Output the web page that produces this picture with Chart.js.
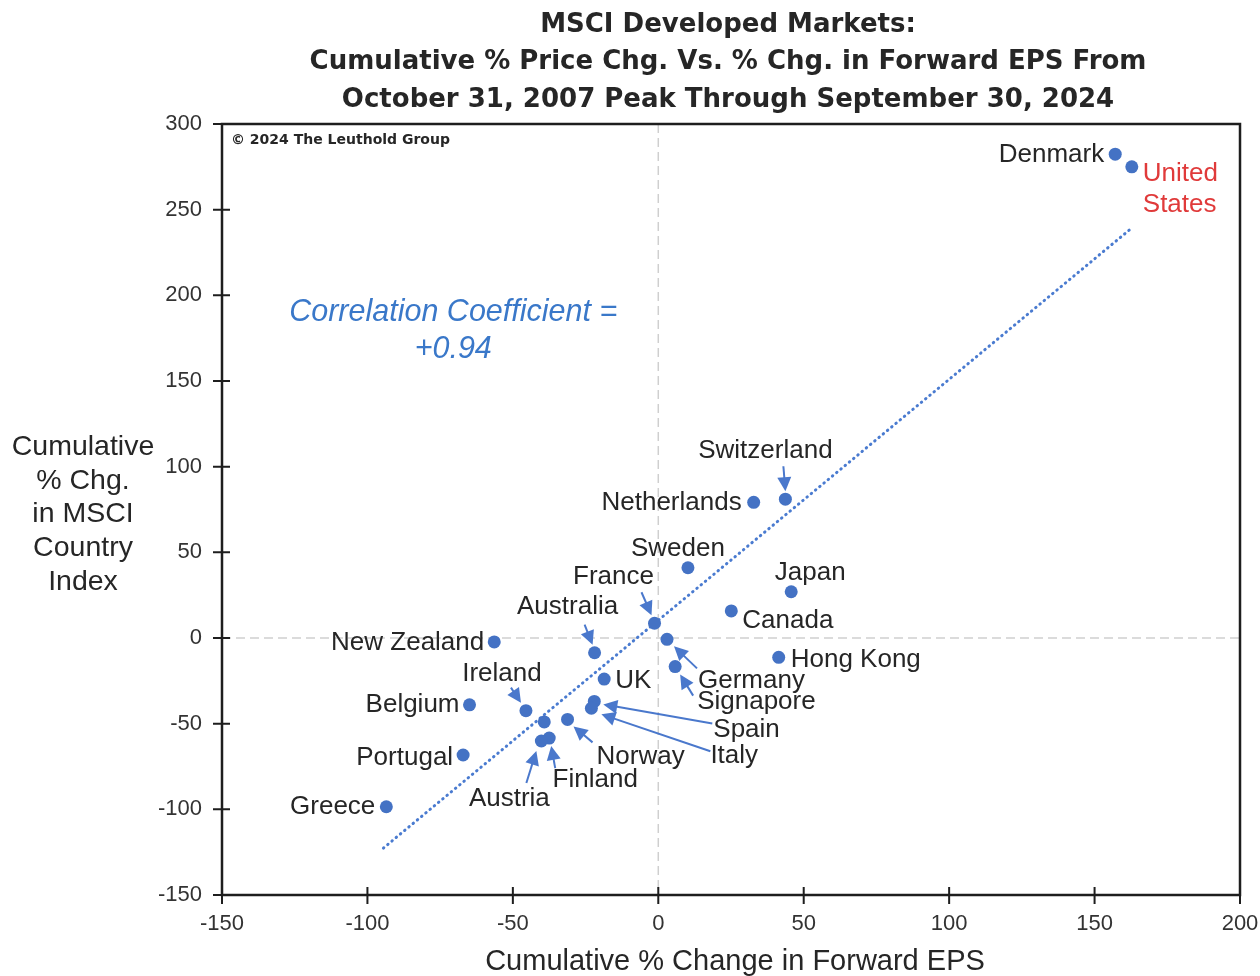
<!DOCTYPE html>
<html>
<head>
<meta charset="utf-8">
<script src="https://cdn.jsdelivr.net/npm/chart.js@4.4.1/dist/chart.umd.min.js"></script>
<style>
  html, body { margin: 0; padding: 0; background: #fff; }
</style>
</head>
<body>
<canvas id="chart" width="1260" height="976"></canvas>
<script>
// --- data ---
const countries = [
  "Denmark", "United States", "Switzerland", "Netherlands", "Sweden", "Japan",
  "Canada", "France", "Germany", "Signapore", "Hong Kong", "New Zealand",
  "Australia", "UK", "Spain", "Italy", "Ireland", "Belgium", "Norway",
  "(unlabeled)", "Finland", "Austria", "Portugal", "Greece"
];
// cumulative % change in forward EPS (x)
const epsChange = [
  157.1, 162.8, 43.7, 32.8, 10.2, 45.7,
  25.1, -1.3, 3.0, 5.8, 41.4, -56.4,
  -21.9, -18.6, -22.0, -23.0, -45.5, -64.9, -31.2,
  -39.2, -37.5, -40.2, -67.1, -93.5
];
// cumulative % change in MSCI country index (y)
const priceChange = [
  282.4, 275.0, 81.0, 79.2, 41.0, 27.0,
  15.8, 8.6, -0.8, -16.7, -11.3, -2.3,
  -8.6, -24.0, -37.0, -41.0, -42.4, -39.0, -47.5,
  -49.0, -58.4, -60.1, -68.3, -98.5
];
// fitted trend line end points
const trendEps = [-94.5, 162.3];
const trendPrice = [-122.6, 238.6];

const xTicks = [-150, -100, -50, 0, 50, 100, 150, 200];
const yTicks = [-150, -100, -50, 0, 50, 100, 150, 200, 250, 300];

const titleLines = [
  "MSCI Developed Markets:",
  "Cumulative % Price Chg. Vs. % Chg. in Forward EPS From",
  "October 31, 2007 Peak Through September 30, 2024"
];
const yTitleLines = ["Cumulative", "% Chg.", "in MSCI", "Country", "Index"];
const xTitle = "Cumulative % Change in Forward EPS";
const corrLines = ["Correlation Coefficient =", "+0.94"];
const copyright = "\u00A9 2024 The Leuthold Group";

// --- label placement (pixel offsets from each point) ---
const labelLayout = {
  "Denmark":       { dx: -11, dy: 1, align: "right" },
  "United States": { dx: 11, dy: 7, align: "left", lines: ["United", "States"], color: "#e03a3a" },
  "Switzerland":   { dx: -20, dy: -48, align: "center", arrow: [-2, -33, 0, -8] },
  "Netherlands":   { dx: -12, dy: 1, align: "right" },
  "Sweden":        { dx: -10, dy: -19, align: "center" },
  "Japan":         { dx: 19, dy: -19, align: "center" },
  "Canada":        { dx: 11, dy: 10, align: "left" },
  "France":        { dx: -41, dy: -46, align: "center", arrow: [-13, -31, -3, -8] },
  "Germany":       { dx: 31, dy: 41, align: "left", arrow: [30, 29, 7, 7] },
  "Signapore":     { dx: 22, dy: 35, align: "left", arrow: [18, 29, 5, 8] },
  "Hong Kong":     { dx: 12, dy: 2, align: "left" },
  "New Zealand":   { dx: -10, dy: 1, align: "right" },
  "Australia":     { dx: -27, dy: -46, align: "center", arrow: [-10, -28, -2, -8] },
  "UK":            { dx: 11, dy: 2, align: "left" },
  "Spain":         { dx: 119, dy: 28, align: "left", arrow: [118, 22, 9, 3] },
  "Italy":         { dx: 119, dy: 48, align: "left", arrow: [119, 43, 10, 6] },
  "Ireland":       { dx: -24, dy: -37, align: "center", arrow: [-15, -23, -5, -8] },
  "Belgium":       { dx: -10, dy: 0, align: "right" },
  "Norway":        { dx: 29, dy: 37, align: "left", arrow: [25, 23, 6, 7] },
  "Finland":       { dx: 46, dy: 42, align: "center", arrow: [6, 30, 2, 8] },
  "Austria":       { dx: -32, dy: 58, align: "center", arrow: [-15, 42, -5, 10] },
  "Portugal":      { dx: -10, dy: 3, align: "right" },
  "Greece":        { dx: -11, dy: 0, align: "right" }
};

const POINT_BLUE = "#4472c4";
const ARROW_BLUE = "#4a78cc";
const TEXT_DARK = "#262626";

function drawArrow(ctx, x0, y0, x1, y1) {
  const ang = Math.atan2(y1 - y0, x1 - x0);
  const head = 14, half = 7;
  ctx.save();
  ctx.strokeStyle = ARROW_BLUE;
  ctx.fillStyle = ARROW_BLUE;
  ctx.lineWidth = 2;
  ctx.beginPath();
  ctx.moveTo(x0, y0);
  ctx.lineTo(x1 - Math.cos(ang) * head * 0.8, y1 - Math.sin(ang) * head * 0.8);
  ctx.stroke();
  ctx.beginPath();
  ctx.moveTo(x1, y1);
  ctx.lineTo(x1 - Math.cos(ang) * head - Math.sin(ang) * half, y1 - Math.sin(ang) * head + Math.cos(ang) * half);
  ctx.lineTo(x1 - Math.cos(ang) * head + Math.sin(ang) * half, y1 - Math.sin(ang) * head - Math.cos(ang) * half);
  ctx.closePath();
  ctx.fill();
  ctx.restore();
}

const decor = {
  id: "decor",
  beforeDatasetsDraw(chart) {
    const { ctx, chartArea: a, scales: { x, y } } = chart;
    // dashed zero lines
    ctx.save();
    ctx.strokeStyle = "#cfcfcf";
    ctx.lineWidth = 1.5;
    ctx.setLineDash([9, 5]);
    const x0 = x.getPixelForValue(0), y0 = y.getPixelForValue(0);
    ctx.beginPath();
    ctx.moveTo(x0, a.top); ctx.lineTo(x0, a.bottom);
    ctx.moveTo(a.left, y0); ctx.lineTo(a.right, y0);
    ctx.stroke();
    ctx.restore();
  },
  afterDatasetsDraw(chart) {
    const { ctx, chartArea: a, scales: { x, y } } = chart;
    ctx.save();

    // frame and crossing tick marks
    ctx.strokeStyle = "#1e1e1e";
    ctx.lineWidth = 2.5;
    ctx.strokeRect(a.left, a.top, a.right - a.left, a.bottom - a.top);
    ctx.lineWidth = 2;
    ctx.beginPath();
    yTicks.forEach(v => {
      const py = y.getPixelForValue(v);
      ctx.moveTo(a.left - 9, py); ctx.lineTo(a.left + 8, py);
    });
    xTicks.forEach(v => {
      const px = x.getPixelForValue(v);
      ctx.moveTo(px, a.bottom - 8); ctx.lineTo(px, a.bottom + 9);
    });
    ctx.stroke();

    // title
    ctx.fillStyle = TEXT_DARK;
    ctx.textAlign = "center";
    ctx.textBaseline = "middle";
    ctx.font = "bold 26px 'DejaVu Sans'";
    titleLines.forEach((t, i) => ctx.fillText(t, 728, 25 + i * 37.5));

    // axis titles
    ctx.font = "28.5px 'Liberation Sans'";
    yTitleLines.forEach((t, i) => ctx.fillText(t, 83, 447 + i * 33.8));
    ctx.font = "29px 'Liberation Sans'";
    ctx.fillText(xTitle, 735, 962);

    // copyright
    ctx.textAlign = "left";
    ctx.font = "bold 14px 'DejaVu Sans'";
    ctx.fillText(copyright, a.left + 9, a.top + 16);

    // correlation note
    ctx.textAlign = "center";
    ctx.fillStyle = "#3a78c9";
    ctx.font = "italic 30.5px 'Liberation Sans'";
    const ccx = x.getPixelForValue(-70.5);
    corrLines.forEach((t, i) => ctx.fillText(t, ccx, y.getPixelForValue(190) + i * 37));

    // country labels and arrows
    const meta = chart.getDatasetMeta(0);
    countries.forEach((name, i) => {
      const lay = labelLayout[name];
      if (!lay) return;
      const pt = meta.data[i];
      const px = pt.x, py = pt.y;
      if (lay.arrow) {
        const [ax0, ay0, ax1, ay1] = lay.arrow;
        drawArrow(ctx, px + ax0, py + ay0, px + ax1, py + ay1);
      }
      ctx.fillStyle = lay.color || TEXT_DARK;
      ctx.font = "26px 'Liberation Sans'";
      ctx.textAlign = lay.align;
      ctx.textBaseline = "middle";
      const lines = lay.lines || [name];
      lines.forEach((t, j) => ctx.fillText(t, px + lay.dx, py + lay.dy + j * 31));
    });
    ctx.restore();
  }
};

const points = countries.map((c, i) => ({ x: epsChange[i], y: priceChange[i] }));
const trend = trendEps.map((v, i) => ({ x: v, y: trendPrice[i] }));

new Chart(document.getElementById("chart"), {
  type: "scatter",
  data: {
    datasets: [
      {
        label: "Countries",
        data: points,
        backgroundColor: POINT_BLUE,
        borderWidth: 0,
        pointRadius: 6.5,
        order: 0
      },
      {
        label: "Trend",
        data: trend,
        showLine: true,
        borderColor: "#4a7bd0",
        borderWidth: 3,
        borderDash: [0.5, 5],
        borderCapStyle: "round",
        pointRadius: 0,
        order: 1
      }
    ]
  },
  options: {
    responsive: false,
    animation: false,
    layout: { padding: { top: 124, right: 20, left: 0, bottom: 0 } },
    plugins: {
      legend: { display: false },
      tooltip: { enabled: false },
      title: { display: false }
    },
    scales: {
      x: {
        type: "linear",
        min: -150,
        max: 200,
        afterBuildTicks: s => { s.ticks = xTicks.map(v => ({ value: v })); },
        afterFit: s => { s.height = 81; s.paddingLeft = 0; s.paddingRight = 0; },
        grid: { display: false, drawTicks: false },
        border: { display: false },
        ticks: {
          padding: 16,
          color: "#333",
          font: { family: "'Liberation Sans'", size: 22 }
        }
      },
      y: {
        type: "linear",
        min: -150,
        max: 300,
        afterBuildTicks: s => { s.ticks = yTicks.map(v => ({ value: v })); },
        afterFit: s => { s.width = 222; s.paddingTop = 0; s.paddingBottom = 0; },
        grid: { display: false, drawTicks: false },
        border: { display: false },
        ticks: {
          padding: 20,
          color: "#333",
          font: { family: "'Liberation Sans'", size: 22 }
        }
      }
    }
  },
  plugins: [decor]
});
</script>
</body>
</html>
